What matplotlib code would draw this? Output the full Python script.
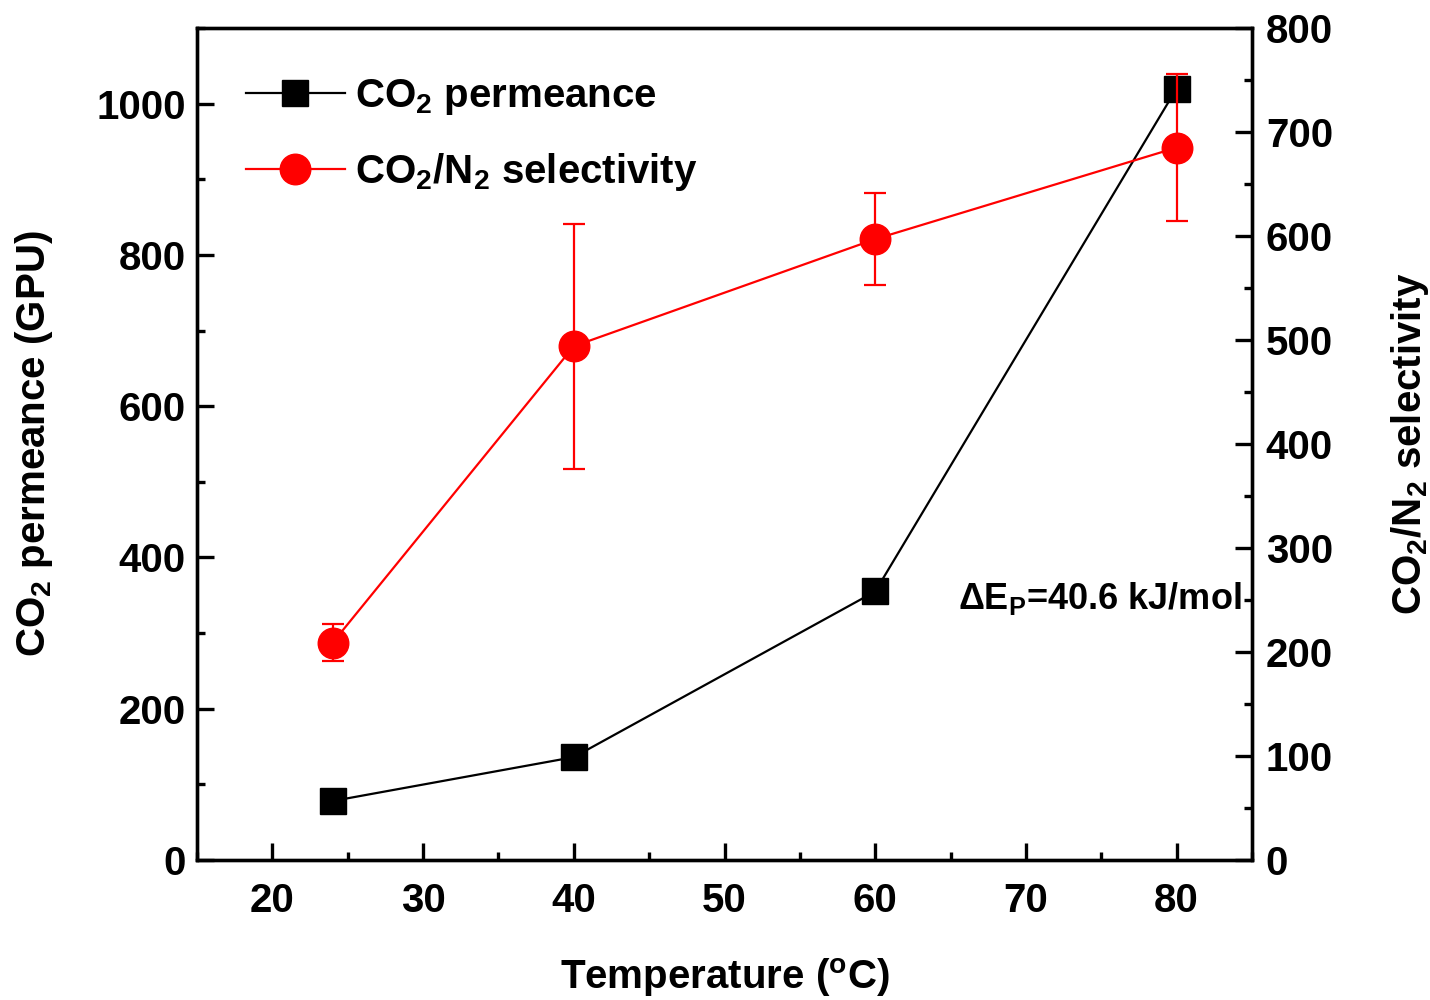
import matplotlib
matplotlib.use("Agg")
import matplotlib.pyplot as plt
from matplotlib.ticker import MultipleLocator

plt.rcParams['font.family'] = ['Liberation Sans', 'DejaVu Sans']
plt.rcParams['font.weight'] = 'bold'
plt.rcParams['mathtext.fontset'] = 'custom'
plt.rcParams['mathtext.rm'] = 'Liberation Sans:bold'
plt.rcParams['mathtext.bf'] = 'Liberation Sans:bold'
plt.rcParams['mathtext.it'] = 'Liberation Sans:bold'
plt.rcParams['mathtext.default'] = 'bf'

# data
temp = [24, 40, 60, 80]
permeance = [78, 136, 355, 1020]
selectivity = [209, 494, 597, 685]
sel_err = [18, 118, 44, 71]

fs = 29
fig = plt.figure(figsize=(14.3, 10), dpi=100)
ax = fig.add_axes([0.1378, 0.14, 0.7377, 0.832])
ax2 = ax.twinx()

l1, = ax.plot(temp, permeance, '-', color='black', lw=1.6, marker='s',
              markersize=19, label='CO$_2$ permeance')
l2 = ax2.errorbar(temp, selectivity, yerr=sel_err, fmt='-o', color='red',
                  ecolor='red', elinewidth=1.6, capsize=8, capthick=1.6,
                  lw=1.6, markersize=22)

ax.set_xlim(15, 85)
ax.set_ylim(0, 1100)
ax2.set_ylim(0, 800)

ax.xaxis.set_major_locator(MultipleLocator(10))
ax.xaxis.set_minor_locator(MultipleLocator(5))
ax.yaxis.set_major_locator(MultipleLocator(200))
ax.yaxis.set_minor_locator(MultipleLocator(100))
ax2.yaxis.set_major_locator(MultipleLocator(100))
ax2.yaxis.set_minor_locator(MultipleLocator(50))

for a in (ax, ax2):
    for s in a.spines.values():
        s.set_linewidth(2.4)
ax.tick_params(axis='both', which='major', direction='in', length=12, width=2.4,
               labelsize=fs, top=False)
ax.tick_params(axis='x', which='major', pad=16)
ax.tick_params(axis='y', which='major', pad=8)
ax.tick_params(axis='both', which='minor', direction='in', length=6, width=2.4,
               top=False)
ax2.tick_params(axis='y', which='major', direction='in', length=12, width=2.4,
                labelsize=fs, pad=10)
ax2.tick_params(axis='y', which='minor', direction='in', length=6, width=2.4)
for lab in ax.get_xticklabels() + ax.get_yticklabels() + ax2.get_yticklabels():
    lab.set_fontweight('bold')

ax.set_xlabel('Temperature ($^o$C)', fontsize=fs, fontweight='bold', labelpad=26)
ax.set_ylabel('CO$_2$ permeance (GPU)', fontsize=fs, fontweight='bold', labelpad=30)
ax2.set_ylabel('CO$_2$/N$_2$ selectivity', fontsize=fs, fontweight='bold', labelpad=40)

ax.text(84.3, 346, '\u0394E$_P$=40.6 kJ/mol', fontsize=26, fontweight='bold',
        ha='right', va='center')

leg = ax.legend([l1, l2[0]], ['CO$_2$ permeance', 'CO$_2$/N$_2$ selectivity'],
                loc='upper left', frameon=False, fontsize=fs,
                handlelength=2.45, handletextpad=0.25, labelspacing=0.85,
                bbox_to_anchor=(0.012, 0.985))

fig.savefig('out.png', dpi=100)
